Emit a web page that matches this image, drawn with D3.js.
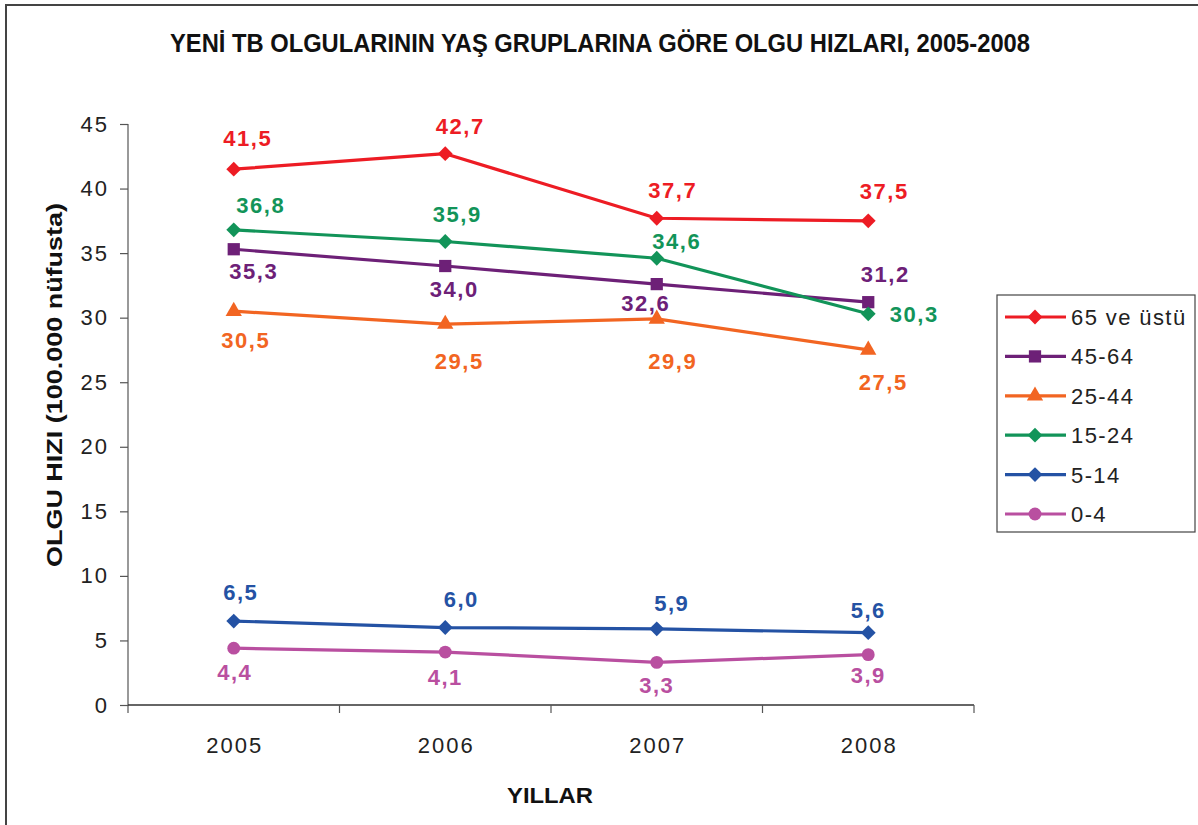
<!DOCTYPE html>
<html>
<head>
<meta charset="utf-8">
<script src="https://cdn.jsdelivr.net/npm/d3@7"></script>
<style>
  body { margin: 0; background: #fff; }
  text { font-family: "Liberation Sans", Arial, sans-serif; }
</style>
</head>
<body>
<svg width="1198" height="825"></svg>
<script>
var years = ["2005", "2006", "2007", "2008"];
var yTicks = [0, 5, 10, 15, 20, 25, 30, 35, 40, 45];

var groups = ["65 ve üstü", "45-64", "25-44", "15-24", "5-14", "0-4"];
var v65 = [41.5, 42.7, 37.7, 37.5];
var v45 = [35.3, 34.0, 32.6, 31.2];
var v25 = [30.5, 29.5, 29.9, 27.5];
var v15 = [36.8, 35.9, 34.6, 30.3];
var v5 = [6.5, 6.0, 5.9, 5.6];
var v0 = [4.4, 4.1, 3.3, 3.9];

// label nudges (pixels from the point), hand placed like the original
var nudge65 = [[14, -31], [15, -28], [16, -28], [16, -30]];
var nudge45 = [[20, 22], [9, 23], [-11, 19], [17, -28]];
var nudge25 = [[12, 29], [14, 37], [16, 42], [15, 32]];
var nudge15 = [[27, -25], [12, -27], [20, -17], [46, 0]];
var nudge5 = [[7, -29], [16, -29], [15, -26], [0, -23]];
var nudge0 = [[1, 24], [0, 25], [0, 23], [0, 20]];

var series = [
  {name: groups[0], values: v65, nudge: nudge65, color: "#ed1c24", shape: "diamond"},
  {name: groups[1], values: v45, nudge: nudge45, color: "#6d2077", shape: "square"},
  {name: groups[2], values: v25, nudge: nudge25, color: "#f26522", shape: "triangle"},
  {name: groups[3], values: v15, nudge: nudge15, color: "#129459", shape: "diamond"},
  {name: groups[4], values: v5, nudge: nudge5, color: "#2452a4", shape: "diamond"},
  {name: groups[5], values: v0, nudge: nudge0, color: "#b94fa0", shape: "circle"}
];

var margin = {top: 124, left: 128},
    width = 974 - 128,
    height = 705 - 124;

var svg = d3.select("svg");

// outer frame (runs off the right and bottom like the original)
svg.append("rect")
    .attr("x", 6).attr("y", 5)
    .attr("width", 1250).attr("height", 900)
    .attr("fill", "none")
    .attr("stroke", "#444")
    .attr("stroke-width", 2);

svg.append("text")
    .attr("x", 600).attr("y", 52)
    .attr("text-anchor", "middle")
    .attr("textLength", 860)
    .attr("lengthAdjust", "spacingAndGlyphs")
    .style("font-size", "25px")
    .style("font-weight", "bold")
    .attr("fill", "#111")
    .text("YENİ TB OLGULARININ YAŞ GRUPLARINA GÖRE OLGU HIZLARI, 2005-2008");

var g = svg.append("g")
    .attr("transform", "translate(" + margin.left + "," + margin.top + ")");

var x = d3.scaleBand().domain(years).range([0, width]);
var y = d3.scaleLinear().domain([0, 45]).range([height, 0]);

// y axis
var yAxis = g.append("g")
    .call(d3.axisLeft(y).tickValues(yTicks).tickSize(8).tickPadding(11));
yAxis.select(".domain").attr("stroke", "#777").attr("stroke-width", 1.5)
    .attr("d", "M0,0V" + (height + 8));
yAxis.selectAll(".tick line").attr("stroke", "#555").attr("stroke-width", 1.2);
yAxis.selectAll(".tick text")
    .style("font-size", "22px")
    .style("letter-spacing", "2px")
    .attr("fill", "#222");

// x axis: ticks at band boundaries
var xAxis = g.append("g")
    .attr("transform", "translate(0," + height + ")")
    .call(d3.axisBottom(x).tickSize(0).tickPadding(32));
xAxis.select(".domain").attr("stroke", "#333").attr("stroke-width", 1.5)
    .attr("d", "M0,0H" + width);
xAxis.selectAll(".tick text")
    .style("font-size", "22px")
    .style("letter-spacing", "2px")
    .attr("dx", 1)
    .attr("fill", "#222");
xAxis.selectAll(".bound")
    .data(years)
    .enter().append("line")
    .attr("class", "bound")
    .attr("x1", function(d) { return x(d) + x.bandwidth(); })
    .attr("x2", function(d) { return x(d) + x.bandwidth(); })
    .attr("y1", 0).attr("y2", 8)
    .attr("stroke", "#555").attr("stroke-width", 1.2);

svg.append("text")
    .attr("x", 550).attr("y", 803)
    .attr("text-anchor", "middle")
    .attr("textLength", 86)
    .attr("lengthAdjust", "spacingAndGlyphs")
    .style("font-size", "22px")
    .style("font-weight", "bold")
    .attr("fill", "#111")
    .text("YILLAR");

svg.append("text")
    .attr("transform", "translate(62,385) rotate(-90)")
    .attr("text-anchor", "middle")
    .attr("textLength", 364)
    .attr("lengthAdjust", "spacingAndGlyphs")
    .style("font-size", "22px")
    .style("font-weight", "bold")
    .attr("fill", "#111")
    .text("OLGU HIZI (100.000 nüfusta)");

function cx(i) { return x(years[i]) + x.bandwidth() / 2; }

var symbolType = {
  diamond: d3.symbolSquare,
  square: d3.symbolSquare,
  triangle: d3.symbolTriangle,
  circle: d3.symbolCircle
};
var symbolSize = {diamond: 110, square: 150, triangle: 115, circle: 130};

function marker(sel, s) {
  sel.append("path")
      .attr("d", d3.symbol().type(symbolType[s.shape]).size(symbolSize[s.shape]))
      .attr("transform", s.shape === "diamond" ? "rotate(45)" : null)
      .attr("fill", s.color);
}

var line = d3.line()
    .x(function(d, i) { return cx(i); })
    .y(function(d) { return y(d); });

series.forEach(function(s) {
  g.append("path")
      .attr("d", line(s.values))
      .attr("fill", "none")
      .attr("stroke", s.color)
      .attr("stroke-width", 3.2)
      .attr("stroke-linejoin", "round");

  s.values.forEach(function(v, i) {
    var m = g.append("g")
        .attr("transform", "translate(" + cx(i) + "," + y(v) + ")");
    marker(m, s);
    g.append("text")
        .attr("x", cx(i) + s.nudge[i][0])
        .attr("y", y(v) + s.nudge[i][1] + 8)
        .attr("text-anchor", "middle")
        .style("font-size", "22px")
        .style("font-weight", "bold")
        .style("letter-spacing", "1.5px")
        .attr("fill", s.color)
        .text(d3.format(".1f")(v).replace(".", ","));
  });
});

// legend
var legend = svg.append("g").attr("transform", "translate(997,295)");
legend.append("rect")
    .attr("width", 198).attr("height", 237)
    .attr("fill", "#fff")
    .attr("stroke", "#444")
    .attr("stroke-width", 1.2);

series.forEach(function(s, i) {
  var row = legend.append("g")
      .attr("transform", "translate(0," + (22 + i * 39.4) + ")");
  row.append("line")
      .attr("x1", 8).attr("x2", 69)
      .attr("stroke", s.color)
      .attr("stroke-width", 3.2);
  var m = row.append("g").attr("transform", "translate(38,0)");
  marker(m, s);
  row.append("text")
      .attr("x", 74).attr("y", 8)
      .style("font-size", "22px")
      .style("letter-spacing", "1.4px")
      .attr("fill", "#222")
      .text(s.name);
});
</script>
</body>
</html>
